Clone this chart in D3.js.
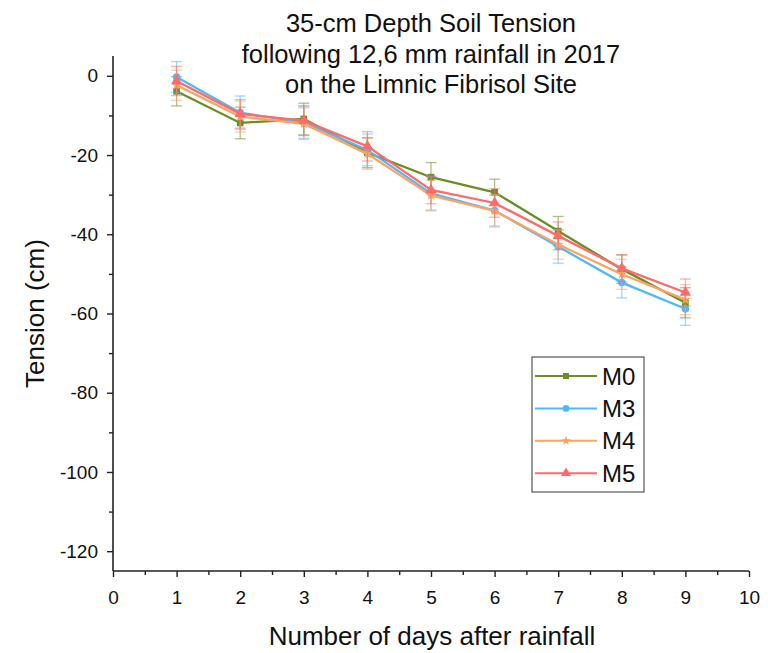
<!DOCTYPE html>
<html><head><meta charset="utf-8"/>
<title>35-cm Depth Soil Tension</title>
<script src="https://d3js.org/d3.v7.min.js"></script>
<style>
  body { margin: 0; background: #fff; }
  svg text { font-family: 'Liberation Sans', Arial, sans-serif; fill: #111; }
</style>
</head>
<body>
<div id="chart"></div>
<script>
  // data
  const days = [1, 2, 3, 4, 5, 6, 7, 8, 9];
  const seriesNames = ["M0", "M3", "M4", "M5"];
  const m0 = [-3.9, -11.9, -10.9, -19.4, -25.6, -29.4, -39.2, -48.8, -57.3];
  const m3 = [-0.3, -9.3, -11.8, -18.7, -29.7, -34.0, -43.1, -52.2, -58.8];
  const m4 = [-2.4, -10.3, -12.1, -19.7, -30.2, -34.1, -42.6, -50.1, -56.5];
  const m5 = [-1.3, -9.6, -11.3, -17.8, -28.8, -32.1, -40.4, -48.6, -54.7];
  const m0Err = [3.7, 4.0, 4.0, 3.8, 3.7, 3.3, 3.7, 3.6, 3.8];
  const m3Err = [3.9, 4.2, 4.0, 4.0, 4.2, 3.9, 4.2, 3.9, 4.2];
  const m4Err = [3.8, 3.9, 4.0, 3.9, 3.9, 4.1, 3.7, 3.8, 3.8];
  const m5Err = [3.7, 3.6, 3.8, 3.7, 3.5, 3.6, 3.5, 3.4, 3.4];
  const xTicks = [0, 1, 2, 3, 4, 5, 6, 7, 8, 9, 10];
  const yTicks = [0, -20, -40, -60, -80, -100, -120];
  const titleLines = ["35-cm Depth Soil Tension", "following 12,6 mm rainfall in 2017", "on the Limnic Fibrisol Site"];

  const colors = { M0: "#6b8e23", M3: "#4db8ff", M4: "#ffa35e", M5: "#ff6a6a" };
  const symbols = { M0: d3.symbolSquare, M3: d3.symbolCircle, M4: d3.symbolStar, M5: d3.symbolTriangle };
  const symSize = { M0: 45, M3: 45, M4: 35, M5: 55 };
  const values = { M0: m0, M3: m3, M4: m4, M5: m5 };
  const errs = { M0: m0Err, M3: m3Err, M4: m4Err, M5: m5Err };

  const W = 768, H = 653;
  const svg = d3.select("#chart").append("svg").attr("width", W).attr("height", H);

  const x = d3.scaleLinear().domain([0, 10]).range([113, 749]);
  const y = d3.scaleLinear().domain([-125, 5]).range([571, 56]);

  // title
  svg.append("g").selectAll("text").data(titleLines).join("text")
    .attr("x", 431).attr("y", (d, i) => 32 + i * 30.5)
    .attr("text-anchor", "middle").attr("font-size", 25.5).text(d => d);

  // axes (plain hyphen for negatives, like the original)
  const fmt = d => String(d);
  const xAxis = svg.append("g").attr("transform", `translate(0,${y(-125)})`)
    .call(d3.axisBottom(x).tickValues(xTicks).tickFormat(fmt).tickSize(6).tickPadding(14));
  svg.append("g").attr("transform", `translate(0,${y(-125)})`)
    .call(d3.axisBottom(x).tickValues(d3.range(0.5, 10, 1)).tickFormat("").tickSize(4))
    .call(g => g.select(".domain").remove());
  const yAxis = svg.append("g").attr("transform", `translate(${x(0)},0)`)
    .call(d3.axisLeft(y).tickValues(yTicks).tickFormat(fmt).tickSize(6).tickPadding(9));
  svg.append("g").attr("transform", `translate(${x(0)},0)`)
    .call(d3.axisLeft(y).tickValues(d3.range(-110, 0, 20)).tickFormat("").tickSize(4))
    .call(g => g.select(".domain").remove());
  svg.selectAll(".domain").attr("stroke", "#222").attr("stroke-width", 1.6);
  svg.selectAll(".tick line").attr("stroke", "#222").attr("stroke-width", 1.4);
  svg.selectAll(".tick text").attr("font-size", 19).attr("font-family", "'Liberation Sans', Arial, sans-serif").attr("fill", "#111");
  xAxis.select(".domain").attr("d", `M${x(0)},0H${x(10)}`);
  yAxis.select(".domain").attr("d", `M0,${y(5)}V${y(-125)}`);

  // axis titles
  svg.append("text").attr("x", 432).attr("y", 645).attr("text-anchor", "middle")
    .attr("font-size", 26).text("Number of days after rainfall");
  svg.append("text").attr("transform", `translate(44,${y(-60)}) rotate(-90)`)
    .attr("text-anchor", "middle").attr("font-size", 26).text("Tension (cm)");

  // series
  const line = d3.line().x(d => x(d.day)).y(d => y(d.v));
  seriesNames.forEach(name => {
    const pts = days.map((d, i) => ({ day: d, v: values[name][i], e: errs[name][i] }));
    const g = svg.append("g");
    const eb = g.append("g").attr("stroke", colors[name]).attr("stroke-opacity", 0.55).attr("stroke-width", 1.3);
    pts.forEach(p => {
      eb.append("line").attr("x1", x(p.day)).attr("x2", x(p.day)).attr("y1", y(p.v + p.e)).attr("y2", y(p.v - p.e));
      [p.v + p.e, p.v - p.e].forEach(v => eb.append("line")
        .attr("x1", x(p.day) - 5.5).attr("x2", x(p.day) + 5.5).attr("y1", y(v)).attr("y2", y(v)));
    });
    g.append("path").datum(pts).attr("d", line).attr("fill", "none")
      .attr("stroke", colors[name]).attr("stroke-width", 2.3);
    g.selectAll("path.pt").data(pts).join("path").attr("class", "pt")
      .attr("transform", p => `translate(${x(p.day)},${y(p.v)})`)
      .attr("d", d3.symbol(symbols[name], symSize[name])).attr("fill", colors[name]);
  });

  // legend
  const lg = svg.append("g");
  lg.append("rect").attr("x", 532).attr("y", 357).attr("width", 112).attr("height", 135)
    .attr("fill", "#fff").attr("stroke", "#555").attr("stroke-width", 1.2);
  seriesNames.forEach((name, i) => {
    const ly = 376 + i * 32.4;
    lg.append("line").attr("x1", 535).attr("x2", 597).attr("y1", ly).attr("y2", ly)
      .attr("stroke", colors[name]).attr("stroke-width", 2);
    lg.append("path").attr("transform", `translate(566,${ly})`)
      .attr("d", d3.symbol(symbols[name], symSize[name] * 0.8)).attr("fill", colors[name]);
    lg.append("text").attr("x", 602).attr("y", ly + 8.5).attr("font-size", 24).text(name);
  });
</script>
</body></html>
